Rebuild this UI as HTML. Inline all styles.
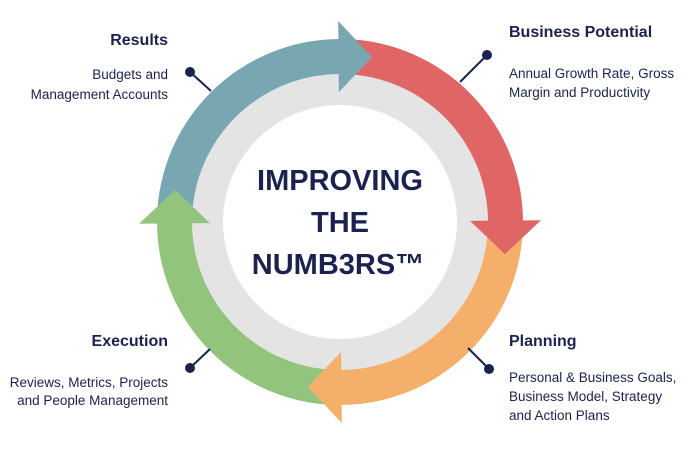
<!DOCTYPE html>
<html><head><meta charset="utf-8"><style>
html,body{margin:0;padding:0;background:#fff;width:692px;height:451px;overflow:hidden}
svg{display:block}
text{font-family:"Liberation Sans",Arial,sans-serif;fill:#1b2250}
</style></head><body>
<svg id="s" width="692" height="451" viewBox="0 0 692 451">
<circle cx="340" cy="222" r="165" fill="#e4e4e4"/>
<circle cx="340" cy="222" r="117" fill="#fff"/>
<g id="bodies"></g><g id="heads"></g>
<text x="340" y="190" font-size="29" font-weight="bold" text-anchor="middle">IMPROVING</text>
<text x="340" y="232" font-size="29" font-weight="bold" text-anchor="middle">THE</text>
<text x="338" y="274" font-size="29" font-weight="bold" text-anchor="middle">NUMB3RS™</text>

<text x="168" y="45" font-size="16" font-weight="bold" text-anchor="end">Results</text>
<text x="168" y="79" font-size="13.5" text-anchor="end">Budgets and</text>
<text x="168" y="99" font-size="13.5" text-anchor="end">Management Accounts</text>

<text x="509" y="37" font-size="16" font-weight="bold">Business Potential</text>
<text x="509" y="78" font-size="13.5">Annual Growth Rate, Gross</text>
<text x="509" y="97" font-size="13.5">Margin and Productivity</text>

<text x="168" y="346" font-size="16" font-weight="bold" text-anchor="end">Execution</text>
<text x="168" y="387" font-size="13.5" text-anchor="end">Reviews, Metrics, Projects</text>
<text x="168" y="405" font-size="13.5" text-anchor="end">and People Management</text>

<text x="509" y="346" font-size="16" font-weight="bold">Planning</text>
<text x="509" y="382" font-size="13.5">Personal &amp; Business Goals,</text>
<text x="509" y="401" font-size="13.5">Business Model, Strategy</text>
<text x="509" y="420" font-size="13.5">and Action Plans</text>

<g stroke="#1b2250" stroke-width="2">
<line x1="190" y1="72" x2="211" y2="91"/>
<line x1="487" y1="55" x2="460" y2="82"/>
<line x1="190" y1="368" x2="210" y2="349"/>
<line x1="489" y1="369" x2="468" y2="348"/>
</g>
<g fill="#1b2250">
<circle cx="190" cy="72" r="5"/><circle cx="487" cy="55" r="5"/>
<circle cx="190" cy="368" r="5"/><circle cx="489" cy="369" r="5"/>
</g>
</svg>
<script>
(function(){
var cx=340,cy=222,ri=148,ro=183,hi=130,ho=201,rt=168,hl=11;
var cols=["#78a7b1","#e06666","#f4b06a","#93c47e"];
var ends=[-90,0,90,180];
var ns="http://www.w3.org/2000/svg";
function p(r,a){a=a*Math.PI/180;return (cx+r*Math.cos(a)).toFixed(1)+","+(cy+r*Math.sin(a)).toFixed(1);}
var B=document.getElementById("bodies"),H=document.getElementById("heads");
for(var i=0;i<4;i++){
 var a1=ends[i],a0=a1-89;
 var d="M"+p(ro,a0)+" A"+ro+","+ro+" 0 0 1 "+p(ro,a1)+" L"+p(ri,a1)+" A"+ri+","+ri+" 0 0 0 "+p(ri,a0)+"Z";
 var e=document.createElementNS(ns,"path");e.setAttribute("d",d);e.setAttribute("fill",cols[i]);B.appendChild(e);
 var h=document.createElementNS(ns,"polygon");
 h.setAttribute("points",p(hi,a1-0.5)+" "+p(ho,a1-0.5)+" "+p(rt,a1+hl));
 h.setAttribute("fill",cols[i]);H.appendChild(h);
}
})();
</script>
</body></html>
